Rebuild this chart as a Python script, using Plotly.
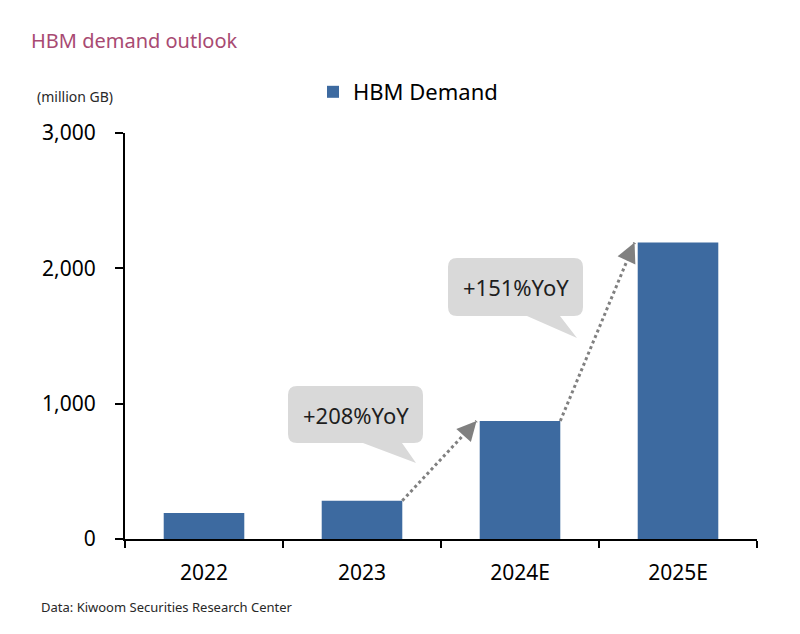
import plotly.graph_objects as go

categories = ["2022", "2023", "2024E", "2025E"]
demand = [192, 283, 872, 2190]
series_name = "HBM Demand"
yoy_labels = ["+208%YoY", "+151%YoY"]
y_ticks = [0, 1000, 2000, 3000]
y_ticklabels = ["0", "1,000", "2,000", "3,000"]

BAR = "rgb(61,106,160)"
GRAY = "rgb(128,128,128)"
FONT = "Noto Sans"

W, H = 800, 634
L, R, T, B = 125, 43, 133, 95
PW, PH = W - L - R, H - T - B
BARGAP = 0.49
HALF = (1 - BARGAP) / 2

fig = go.Figure()
fig.add_trace(go.Bar(x=categories, y=demand, name=series_name,
                     marker=dict(color=BAR, line=dict(width=0)),
                     showlegend=True))


def px(x):
    return (x - L) / PW


def py(y):
    return (H - B - y) / PH


def bubble(x0, y0, x1, y1, tl, tr, tipx, tipy, r=9):
    pts = [
        f"M{px(x0 + r)},{py(y0)}",
        f"L{px(x1 - r)},{py(y0)}",
        f"Q{px(x1)},{py(y0)} {px(x1)},{py(y0 + r)}",
        f"L{px(x1)},{py(y1 - r)}",
        f"Q{px(x1)},{py(y1)} {px(x1 - r)},{py(y1)}",
        f"L{px(tr)},{py(y1)}",
        f"L{px(tipx)},{py(tipy)}",
        f"L{px(tl)},{py(y1)}",
        f"L{px(x0 + r)},{py(y1)}",
        f"Q{px(x0)},{py(y1)} {px(x0)},{py(y1 - r)}",
        f"L{px(x0)},{py(y0 + r)}",
        f"Q{px(x0)},{py(y0)} {px(x0 + r)},{py(y0)}",
        "Z",
    ]
    return " ".join(pts)


callouts = [
    dict(box=(288, 386, 423, 443), tail=(363, 402, 416, 463)),
    dict(box=(448, 258, 583, 316), tail=(527, 560, 577, 338)),
]
for c, lab in zip(callouts, yoy_labels):
    x0, y0, x1, y1 = c["box"]
    tl, tr, tx, ty = c["tail"]
    fig.add_shape(type="path", xref="paper", yref="paper",
                  path=bubble(x0, y0, x1, y1, tl, tr, tx, ty),
                  fillcolor="rgb(217,217,217)", line=dict(width=0), layer="above")
    fig.add_annotation(xref="paper", yref="paper", x=px((x0 + x1) / 2), y=py((y0 + y1) / 2),
                       xanchor="center", yanchor="middle",
                       text=lab, showarrow=False,
                       font=dict(family=FONT, size=22, color="rgb(30,30,30)"))

# growth arrows between consecutive bars (from 2023 onwards)
head_dirs = [(-8, 9), (-5, 11)]
for i, (dx, dy) in zip(range(1, 3), head_dirs):
    xs, ys = i + HALF, demand[i]
    xe, ye = i + 1 - HALF - 0.02, demand[i + 1]
    fig.add_shape(type="line", xref="x", yref="y", x0=xs, y0=ys, x1=xe, y1=ye,
                  line=dict(color=GRAY, width=3, dash="dot"), layer="above")
    fig.add_annotation(xref="x", yref="y", x=xe, y=ye, ax=dx, ay=dy,
                       axref="pixel", ayref="pixel", text="", showarrow=True,
                       arrowhead=2, arrowsize=1.3, arrowwidth=3, arrowcolor=GRAY)

fig.add_annotation(xref="paper", yref="paper", x=px(29), y=py(40), xanchor="left", yanchor="middle",
                   text="HBM demand outlook", showarrow=False,
                   font=dict(family=FONT, size=20, color="rgb(168,74,114)"))
fig.add_annotation(xref="paper", yref="paper", x=px(35), y=py(96), xanchor="left", yanchor="middle",
                   text="(million GB)", showarrow=False,
                   font=dict(family=FONT, size=14, color="rgb(40,40,40)"))
fig.add_annotation(xref="paper", yref="paper", x=px(39), y=py(607), xanchor="left", yanchor="middle",
                   text="Data: Kiwoom Securities Research Center", showarrow=False,
                   font=dict(family=FONT, size=13, color="rgb(40,40,40)"))

fig.update_layout(
    width=W, height=H,
    margin=dict(l=L, r=R, t=T, b=B, pad=0),
    paper_bgcolor="white", plot_bgcolor="white",
    bargap=BARGAP,
    font=dict(family=FONT, color="black"),
    legend=dict(orientation="h", x=px(313), y=py(92), xanchor="left", yanchor="middle",
                font=dict(family=FONT, size=22, color="black"),
                bgcolor="rgba(0,0,0,0)", itemwidth=30),
)
fig.update_xaxes(showline=True, linecolor="black", linewidth=2, ticks="outside",
                 tickson="boundaries", ticklen=7, tickwidth=2, tickcolor="black",
                 tickfont=dict(family=FONT, size=21, color="black"),
                 ticklabelstandoff=14,
                 showgrid=False, zeroline=False, range=[-0.5, 3.5])
fig.update_yaxes(showline=True, linecolor="black", linewidth=2, ticks="outside",
                 ticklen=8, tickwidth=2, tickcolor="black",
                 tickvals=y_ticks, ticktext=y_ticklabels, range=[0, 3000],
                 tickfont=dict(family=FONT, size=21, color="black"),
                 ticklabelstandoff=15,
                 showgrid=False, zeroline=False)

fig.write_html("out.html")
